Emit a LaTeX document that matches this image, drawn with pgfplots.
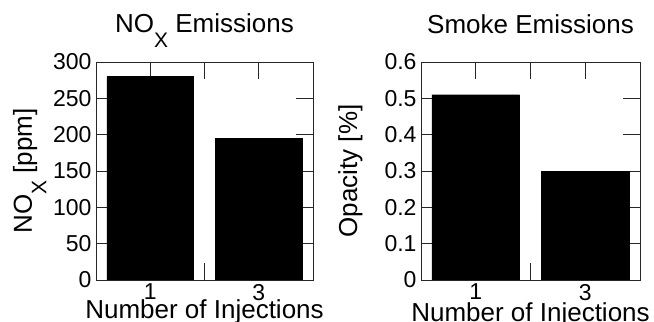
\documentclass[border=0pt]{standalone}
\usepackage{fontspec}
\setmainfont{Liberation Sans}
\usepackage{pgfplots}
\pgfplotsset{compat=1.18}
\newcommand{\subX}{\raisebox{-0.55em}{\fontsize{21bp}{21bp}\selectfont X}}
\pgfplotsset{
  every axis title shift=0pt,
  mybar/.style={
    scale only axis,
    height=218bp,
    xmin=0, xmax=4,
    ymin=0,
    xtick={1,2,3},
    xticklabels={1,,3},
    tick align=inside,
    major tick length=17bp,
    axis line style={line width=0.8bp, black!85},
    tick style={line width=0.8bp, black!85},
    /pgf/number format/assume math mode=true,
    tick label style={font=\fontsize{23bp}{27bp}\selectfont},
    label style={font=\fontsize{26bp}{30bp}\selectfont},
    title style={font=\fontsize{26bp}{30bp}\selectfont, at={(axis description cs:0.5,1)}, anchor=base, yshift=29bp},
    xlabel style={at={(axis description cs:0.5,0)}, anchor=base, yshift=-38bp},
    xticklabel style={yshift=-0.5bp},
    yticklabel style={xshift=-1bp},
  }
}
\begin{document}
\begin{tikzpicture}
\useasboundingbox (0,0) rectangle (654bp,322bp);
\begin{scope}
\clip (0,0) rectangle (323bp,322bp);
\begin{axis}[mybar,
  at={(96bp,42bp)}, anchor=south west,
  width=217bp,
  ymax=300,
  ytick={0,50,100,150,200,250,300},
  title={NO\subX\ Emissions},
  xlabel={Number of Injections},
  ylabel={NO\subX\ [ppm]},
  ylabel style={at={(axis description cs:-0.295,0.5)}, anchor=base, rotate=0},
]
\addplot[ybar, fill=black, draw=black, bar width=1.6] coordinates {(1,280) (3,195)};
\end{axis}
\end{scope}
\begin{axis}[mybar,
  at={(421bp,42bp)}, anchor=south west,
  width=219bp,
  ymax=0.6,
  ytick={0,0.1,0.2,0.3,0.4,0.5,0.6},
  title={Smoke Emissions},
  xlabel={Number of Injections},
  ylabel={Opacity [\%]},
  xlabel style={yshift=-3bp},
  ylabel style={at={(axis description cs:-0.292,0.5)}, anchor=base, rotate=0},
]
\addplot[ybar, fill=black, draw=black, bar width=1.6] coordinates {(1,0.51) (3,0.30)};
\end{axis}
\end{tikzpicture}
\end{document}
